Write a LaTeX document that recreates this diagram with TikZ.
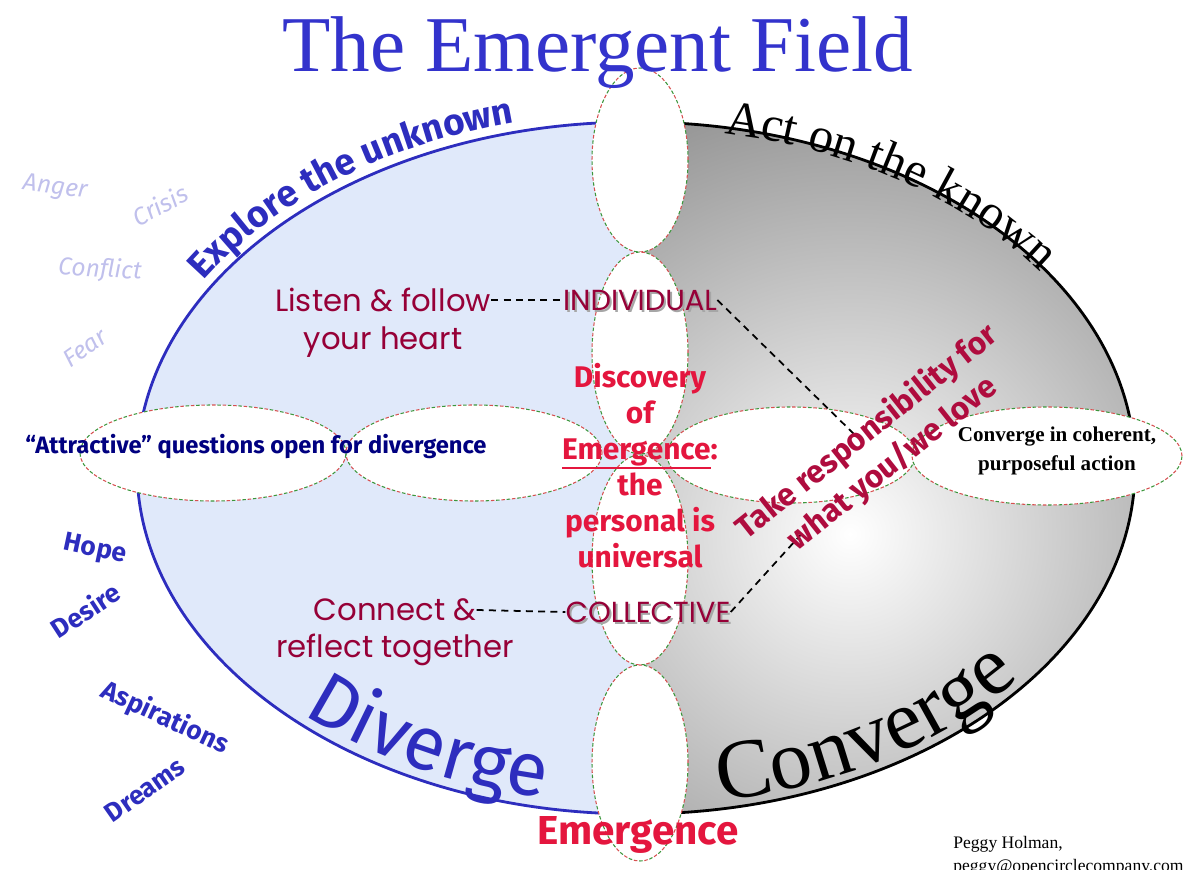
\documentclass[tikz,border=0pt]{standalone}
\usepackage{fontspec}
\setmainfont{Liberation Serif}
\newfontfamily\comicfont{Fira Sans}
\newfontfamily\gothicfont{Poppins}
\usetikzlibrary{decorations.text}

\definecolor{titleblue}{RGB}{51,51,204}
\definecolor{exploreblue}{RGB}{45,45,190}
\definecolor{fieldblue}{RGB}{224,233,250}
\definecolor{heartred}{RGB}{150,0,55}
\definecolor{emergered}{RGB}{228,22,62}
\definecolor{takered}{RGB}{175,12,62}
\definecolor{navyblue}{RGB}{0,0,128}
\definecolor{lavender}{RGB}{192,192,236}
\definecolor{petalred}{RGB}{215,80,80}
\definecolor{petalgreen}{RGB}{60,150,60}

\newcommand\redunder[1]{\leavevmode\vtop{\hbox{#1}\kern0.5pt\hrule height 0.7pt}}

\tikzset{
	petal/.style={fill=white, draw=petalred, line width=0.6pt, dash pattern=on 2pt off 4pt,
		postaction={draw=petalgreen, line width=0.6pt, dash pattern=on 2pt off 4pt, dash phase=3pt}},
	heartlabel/.style={inner sep=0pt, text=heartred, font=\gothicfont\fontsize{17.5}{20}\selectfont},
	caplabel/.style={inner sep=0pt, text=heartred, font=\gothicfont\fontsize{16.5}{19}\selectfont},
	capshadow/.style={caplabel, text=black!35},
	hopeword/.style={inner sep=0pt, text=exploreblue, font=\comicfont\bfseries\fontsize{15}{18}\selectfont},
	fearword/.style={inner sep=0pt, text=lavender, font=\comicfont\itshape\fontsize{14}{16}\selectfont},
	linkline/.style={line width=1pt, dash pattern=on 4pt off 3pt},
	arctext/.style={decorate, decoration={text along path, text align=center, #1}}
}

\begin{document}
\begin{tikzpicture}[x=0.02cm, y=0.02cm]
	\useasboundingbox (0,0) rectangle (1186,869);

	% the field: explore (left) and act (right)
	\fill[fieldblue] (636,747) arc[start angle=90, end angle=270, x radius=499, y radius=346] -- cycle;
	\begin{scope}
		\clip (636,747) arc[start angle=90, end angle=-90, x radius=499, y radius=346] -- cycle;
		\shade[inner color=white, outer color=black!60] (850,335) circle (650);
	\end{scope}
	\draw[exploreblue, line width=1.6pt] (636,747) arc[start angle=90, end angle=270, x radius=499, y radius=346];
	\draw[black, line width=1.6pt] (636,747) arc[start angle=90, end angle=-90, x radius=499, y radius=346];

	% words along the rim
	\path[arctext={text color=exploreblue, text={|\comicfont\bfseries\fontsize{21}{23}\selectfont|Explore the unknown}}]
		(636,401) ++(153:509 and 356) arc[start angle=153, end angle=100, x radius=509, y radius=356];
	\path[arctext={text color=black, text={|\rmfamily\fontsize{28}{30}\selectfont|Act on the known}}]
		(636,401) ++(83:494 and 340) arc[start angle=83, end angle=31, x radius=494, y radius=340];
	\path[arctext={text color=exploreblue, text={|\comicfont\fontsize{43}{45}\selectfont|Diverge}}]
		(636,401) ++(214:488 and 336) arc[start angle=214, end angle=270, x radius=488, y radius=336];
	\path[arctext={text color=black, text={|\rmfamily\fontsize{48}{50}\selectfont|Converge}}]
		(636,401) ++(270:490 and 338) arc[start angle=270, end angle=334, x radius=490, y radius=338];

	% petals
	\draw[petal] (213,416) ellipse[x radius=133, y radius=48];
	\draw[petal] (474,416) ellipse[x radius=128, y radius=48];
	\draw[petal] (791,414) ellipse[x radius=124, y radius=48];
	\draw[petal] (1047,413) ellipse[x radius=135, y radius=49];
	\draw[petal] (640,709) ellipse[x radius=48, y radius=92];
	\draw[petal] (640,516) ellipse[x radius=48, y radius=101];
	\draw[petal] (640,309) ellipse[x radius=48, y radius=105];
	\draw[petal] (640,106) ellipse[x radius=48, y radius=98];

	% individual and collective
	\node[heartlabel] (listen) at (383,569) {Listen \& follow};
	\node[heartlabel] (heart) at (383,527) {your heart};
	\node[capshadow] (individualshadow) at (642,567) {INDIVIDUAL};
	\node[caplabel] (individual) at (640,569) {INDIVIDUAL};

	\node[heartlabel] (connect) at (395,259) {Connect \&};
	\node[heartlabel] (reflect) at (395,219) {reflect together};
	\node[capshadow] (collectiveshadow) at (650,255) {COLLECTIVE};
	\node[caplabel] (collective) at (648,257) {COLLECTIVE};

	\coordinate (upperend) at (857,432);
	\coordinate (lowerend) at (805,339);
	\draw[linkline] (listen.east) -- (individual.west);
	\draw[linkline] (connect.east) -- (collective.west);
	\draw[linkline] (individual.east) -- (upperend);
	\draw[linkline] (collective.east) -- (lowerend);

	\node[text=emergered, align=center, font=\comicfont\bfseries\fontsize{17}{20.5}\selectfont] (discovery) at (640,403)
		{Discovery\\of\\\redunder{Emergence}:\\the\\personal is\\universal};

	\node[text=takered, align=center, rotate=38.5, font=\comicfont\bfseries\fontsize{18}{23}\selectfont] (take) at (880,421)
		{Take responsibility for\\what you/we love};

	\node[align=center, font=\bfseries\fontsize{12}{16.5}\selectfont] (act) at (1057,418)
		{Converge in coherent,\\purposeful action};

	\node[text=navyblue, font=\comicfont\bfseries\fontsize{13.5}{15}\selectfont] (attractive) at (256,422)
		{“Attractive” questions open for divergence};

	\node[text=emergered, font=\comicfont\bfseries\fontsize{23}{26}\selectfont] (emergence) at (638,34) {Emergence};

	% outside the field
	\node[fearword, rotate=-8] (anger) at (55,681) {Anger};
	\node[fearword, rotate=28] (crisis) at (160,664) {Crisis};
	\node[fearword, rotate=-3] (conflict) at (100,599) {Conflict};
	\node[fearword, rotate=35] (fear) at (85,521) {Fear};

	\node[hopeword, rotate=-12] (hope) at (95,319) {Hope};
	\node[hopeword, rotate=33] (desire) at (85,259) {Desire};
	\node[hopeword, rotate=-25] (aspirations) at (165,151) {Aspirations};
	\node[hopeword, rotate=35] (dreams) at (145,79) {Dreams};

	\node[anchor=base west, inner sep=0pt, font=\fontsize{10}{12}\selectfont] (author) at (953,21) {Peggy Holman,};
	\node[anchor=base west, inner sep=0pt, font=\fontsize{10}{12}\selectfont] (mail) at (953,-2) {peggy@opencirclecompany.com};

	\node[anchor=base, inner sep=0pt, text=titleblue, font=\fontsize{45}{50}\selectfont] (title) at (598,797) {The Emergent Field};
\end{tikzpicture}
\end{document}
